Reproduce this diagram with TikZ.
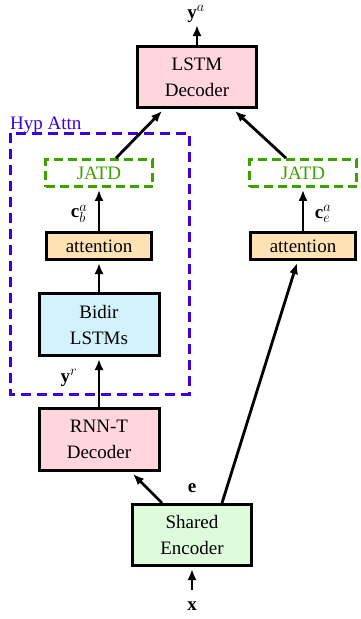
\documentclass[tikz,border=0pt]{standalone}
\usepackage{fontspec}
\setmainfont{Liberation Serif}
\usetikzlibrary{arrows.meta,calc}
\definecolor{pinkfill}{RGB}{255,214,222}
\definecolor{bluefill}{RGB}{210,242,252}
\definecolor{peachfill}{RGB}{255,226,180}
\definecolor{greenfill}{RGB}{222,252,220}
\definecolor{jatdgreen}{RGB}{60,160,0}
\definecolor{hypblue}{RGB}{60,0,220}
\begin{document}
\begin{tikzpicture}[x=1pt,y=-1pt,
  every node/.style={font=\fontsize{19}{26}\selectfont},
  box/.style={draw=black,line width=3pt,align=center,inner sep=0pt},
  jatd/.style={draw=jatdgreen,text=jatdgreen,line width=2.8pt,dash pattern=on 9pt off 5pt,minimum width=107pt,minimum height=27pt,inner sep=0pt},
  arr/.style={line width=2.8pt,-{Latex[length=11pt,width=9pt]}},
  lbl/.style={inner sep=0pt}]
\useasboundingbox (0,0) rectangle (360,619);
% blue dashed box
\draw[hypblue,line width=3pt,dash pattern=on 10pt off 6pt] (10,133) rectangle (189,394);
\node[lbl,text=hypblue,anchor=base west] (hyp) at (10,129) {Hyp Attn};
% nodes
\node[box,fill=pinkfill,minimum width=119pt,minimum height=61pt] (lstm) at (197,77) {LSTM\\Decoder};
\node[jatd] (jatdL) at (99,173) {JATD};
\node[jatd] (jatdR) at (303,173) {JATD};
\node[box,fill=peachfill,minimum width=105pt,minimum height=27pt] (attL) at (99,246) {attention};
\node[box,fill=peachfill,minimum width=105pt,minimum height=27pt] (attR) at (303,246) {attention};
\node[box,fill=bluefill,minimum width=120pt,minimum height=62pt] (bidir) at (99,324.5) {Bidir\\LSTMs};
\node[box,fill=pinkfill,minimum width=120pt,minimum height=62pt] (rnnt) at (99,439.5) {RNN-T\\Decoder};
\node[box,fill=greenfill,minimum width=119pt,minimum height=61pt] (enc) at (192,535) {Shared\\Encoder};
% labels
\node[lbl] (ya) at (196,14) {$\mathbf{y}^a$};
\node[lbl] (cb) at (79,214) {$\mathbf{c}^a_b$};
\node[lbl] (ce) at (323,214) {$\mathbf{c}^a_e$};
\node[lbl] (yr) at (69,378) {$\mathbf{y}^r$};
\node[lbl] (e) at (192,488) {$\mathbf{e}$};
\node[lbl] (x) at (192,606) {$\mathbf{x}$};
\coordinate (yatop) at (197,25);
\coordinate (xbot) at (192,590);
% connectors
\draw[arr] (lstm.north) -- (yatop);
\draw[arr] ([xshift=17pt]jatdL.north) -- ([xshift=-35pt,yshift=-2pt]lstm.south);
\draw[arr] ([xshift=-17pt]jatdR.north) -- ([xshift=38pt,yshift=-2pt]lstm.south);
\draw[arr] (attL.north) -- ([yshift=-2pt]jatdL.south);
\draw[arr] (attR.north) -- ([yshift=-2pt]jatdR.south);
\draw[arr] (bidir.north) -- ([yshift=-2pt]attL.south);
\draw[arr] (rnnt.north) -- ([yshift=-2pt]bidir.south);
\draw[arr] ([xshift=-30pt]enc.north) -- ([xshift=34pt,yshift=-2pt]rnnt.south);
\draw[arr] ([xshift=30pt]enc.north) -- ([xshift=-6pt,yshift=-2pt]attR.south);
\draw[arr,shorten >=2pt] (xbot) -- (enc.south);
\end{tikzpicture}
\end{document}
